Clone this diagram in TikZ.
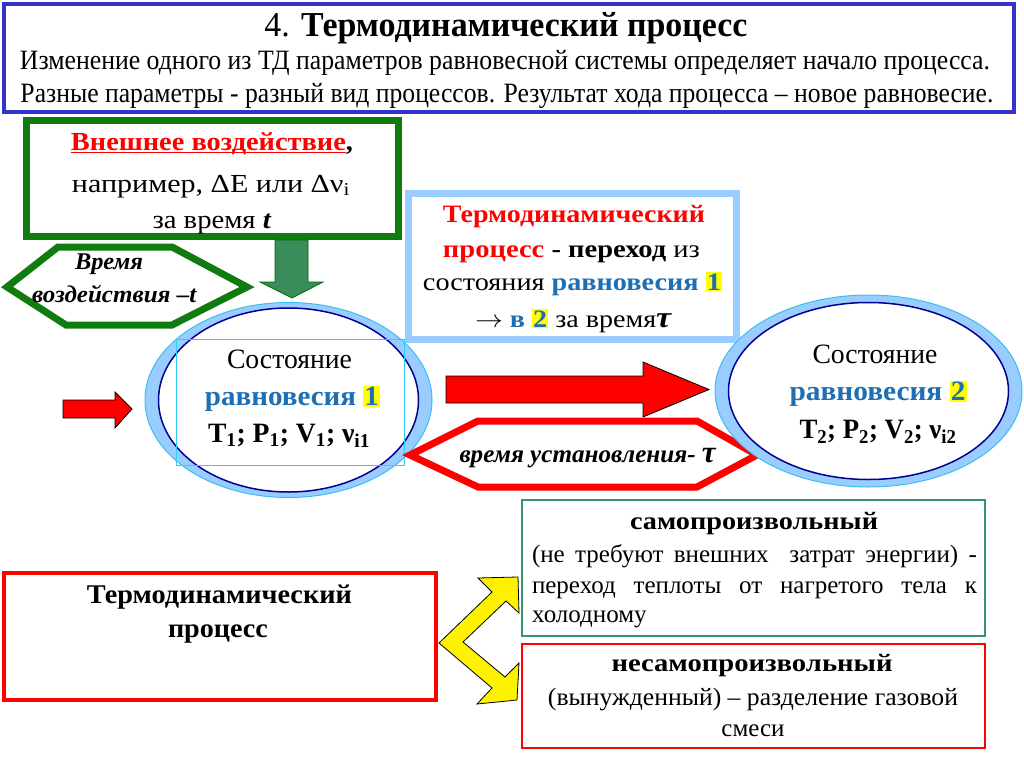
\documentclass[tikz,border=0pt]{standalone}
\usepackage{fontspec}
\setmainfont{Liberation Serif}
\usepackage{graphicx}
\definecolor{frameblue}{RGB}{51,51,204}
\definecolor{dgreen}{RGB}{16,124,16}
\definecolor{arrgreen}{RGB}{58,140,90}
\definecolor{lblue}{RGB}{153,204,255}
\definecolor{ringedge}{RGB}{60,190,240}
\definecolor{dblue}{RGB}{0,0,150}
\definecolor{cyanline}{RGB}{51,204,255}
\definecolor{eqblue}{RGB}{30,110,180}
\definecolor{tgreen}{RGB}{51,150,110}
\definecolor{hl}{RGB}{255,255,0}
\newcommand\fw[2]{\resizebox{#1}{\height}{#2}}
\newcommand\hlt[1]{{\setlength{\fboxsep}{1pt}\colorbox{hl}{#1}}}
\newcommand\fsz[1]{\fontsize{#1pt}{#1pt}\selectfont}
\newcommand\eqb[1]{\textcolor{eqblue}{\textbf{#1}}}
\newsavebox\ulbox
\newcommand\ulred[1]{\sbox\ulbox{#1}\rlap{\rule[-3pt]{\wd\ulbox}{1.6pt}}\usebox\ulbox}
\begin{document}
\begin{tikzpicture}[x=1pt,y=-1pt,
  txt/.style={inner sep=0pt, align=center},
  redarrow/.style={fill=red, draw=black, line width=0.8},
  ring/.style={fill=lblue, even odd rule}]
\useasboundingbox (0,0) rectangle (1024,767);
\fill[white] (0,0) rectangle (1024,767);

% header
\draw[frameblue, line width=4] (4,4) rectangle (1014,112);
\node[txt] (title) at (506,30) {\fsz{35}\fw{483pt}{\strut 4. \textbf{Термодинамический процесс}}};
\node[txt] (l2) at (505,64) {\fsz{28}\fw{970pt}{\strut Изменение одного из ТД параметров равновесной системы определяет начало процесса.}};
\node[txt] (l3) at (507,97) {\fsz{28}\fw{973pt}{\strut Разные параметры - разный вид процессов. Результат хода процесса – новое равновесие.}};

% green box
\draw[dgreen, line width=7] (26.5,120.5) rectangle (398.5,236.5);
\node[txt] (g1) at (212,145) {\fsz{26}\fw{282pt}{\strut\textcolor{red}{\ulred{\textbf{Внешнее воздействие}}}\textbf{,}}};
\node[txt] (g2) at (211,187) {\fsz{26}\fw{278pt}{\strut например, ΔE или Δν\textsubscript{i}}};
\node[txt] (g3) at (212,223) {\fsz{26}\fw{119pt}{\strut за время \textbf{\textit{t}}}};

% green arrow
\draw[fill=arrgreen, draw=black!60!green, line width=0.8] (275,240) -- (308,240) -- (308,282) -- (323,282) -- (292,298) -- (260,282) -- (275,282) -- cycle;

% green hexagon
\draw[dgreen, line width=7] (7,287) -- (58,247) -- (172,247) -- (247,287) -- (172,325) -- (66,325) -- cycle;
\node[txt] (h1) at (109,265) {\fsz{24}\fw{68pt}{\strut\textbf{\textit{Время}}}};
\node[txt] (h2) at (114.5,297) {\fsz{24}\fw{165pt}{\strut\textbf{\textit{воздействия –t}}}};

% light blue box
\draw[lblue, line width=7] (408.5,193.5) rectangle (736.5,339.5);
\node[txt] (b1) at (574,218) {\fsz{25}\fw{262pt}{\strut\textcolor{red}{\textbf{Термодинамический}}}};
\node[txt] (b2) at (571.5,252) {\fsz{25}\fw{257pt}{\strut\textcolor{red}{\textbf{процесс}} \textbf{- переход} из}};
\node[txt] (b3) at (572.5,285) {\fsz{25}\fw{299pt}{\strut состояния \eqb{равновесия} \hlt{\eqb{1}}}};
\node[txt] (b4) at (573.5,322) {\fsz{25}\fw{197pt}{\strut $\rightarrow$ \eqb{в} \hlt{\eqb{2}} за время{\fsz{30}\textbf{\textit{τ}}}}};

% ellipse 1
\fill[ring] (288.5,400) ellipse [x radius=143.5, y radius=97.5] (288.5,400) ellipse [x radius=130, y radius=92];
\draw[ringedge, line width=1] (288.5,400) ellipse [x radius=143.5, y radius=97.5];
\draw[dblue, line width=1.5] (288.5,400) ellipse [x radius=130, y radius=92];
\draw[cyanline, line width=1] (176,339) rectangle (404,465);
\node[txt] (e11) at (289.5,363) {\fsz{28}\fw{125pt}{\strut Состояние}};
\node[txt] (e12) at (292.5,400) {\fsz{28}\fw{175pt}{\strut\eqb{равновесия} \hlt{\eqb{1}}}};
\node[txt] (e13) at (289,437) {\fsz{28}\fw{162pt}{\strut\textbf{T\textsubscript{1}; P\textsubscript{1}; V\textsubscript{1}; ν\textsubscript{i1}}}};

% red arrows
\draw[redarrow] (63,400) -- (115,400) -- (115,392) -- (132,409) -- (115,428) -- (115,418) -- (63,418) -- cycle;
\draw[redarrow] (446,376) -- (643,376) -- (643,362) -- (709,389.5) -- (643,417) -- (643,403) -- (446,403) -- cycle;

% red hexagon
\draw[red, line width=7, fill=white] (410,455) -- (478,421) -- (697,421) -- (757,455) -- (697,487) -- (478,487) -- cycle;
\node[txt] (rh) at (588,457) {\fsz{25}\fw{257pt}{\strut\textbf{\textit{время установления-} }{\fsz{31}\textbf{\textit{τ}}}}};

% ellipse 2
\fill[white] (868.5,391) ellipse [x radius=153.5, y radius=96];
\fill[ring] (868.5,391) ellipse [x radius=153.5, y radius=96] (868.5,391) ellipse [x radius=140, y radius=88.5];
\draw[ringedge, line width=1] (868.5,391) ellipse [x radius=153.5, y radius=96];
\draw[dblue, line width=1.5] (868.5,391) ellipse [x radius=140, y radius=88.5];
\node[txt] (e21) at (875,358) {\fsz{28}\fw{125pt}{\strut Состояние}};
\node[txt] (e22) at (878,395) {\fsz{28}\fw{177pt}{\strut\eqb{равновесия} \hlt{\eqb{2}}}};
\node[txt] (e23) at (878,433) {\fsz{28}\fw{157pt}{\strut\textbf{T\textsubscript{2}; P\textsubscript{2}; V\textsubscript{2}; ν\textsubscript{i2}}}};

% lower left box
\draw[red, line width=3.5] (4,573) rectangle (436,700);
\node[txt] (p1) at (219.5,598) {\fsz{27}\fw{265pt}{\strut\textbf{Термодинамический}}};
\node[txt] (p2) at (218,632) {\fsz{27}\fw{100pt}{\strut\textbf{процесс}}};

% yellow double arrow
\draw[fill=yellow, draw=black, line width=0.8] (439,643) -- (492,592) -- (478,578) -- (518,577) -- (519,613) -- (506,601) -- (463,642) -- (505,677) -- (519,663) -- (517,700) -- (477,704) -- (492,688) -- cycle;

% lower right boxes
\draw[tgreen, line width=2] (522,500) rectangle (985,636);
\node[txt] (s1) at (754,524) {\fsz{25}\fw{248pt}{\strut\textbf{самопроизвольный}}};
\node[txt] (s2) at (754.5,557) {\fsz{25}\makebox[445pt][s]{\strut (не требуют внешних\ \ затрат энергии) -}};
\node[txt] (s3) at (754.5,588) {\fsz{25}\makebox[445pt][s]{\strut переход теплоты от нагретого тела к}};
\node[txt, anchor=west] (s4) at (532,617) {\fsz{25}\strut холодному};

\draw[red, line width=2] (522,644) rectangle (985,748);
\node[txt] (n1) at (752,666) {\fsz{25}\fw{281pt}{\strut\textbf{несамопроизвольный}}};
\node[txt] (n2) at (753,700) {\fsz{25}\fw{410pt}{\strut (вынужденный) – разделение газовой}};
\node[txt] (n3) at (753,731) {\fsz{25}\strut смеси};
\end{tikzpicture}
\end{document}
